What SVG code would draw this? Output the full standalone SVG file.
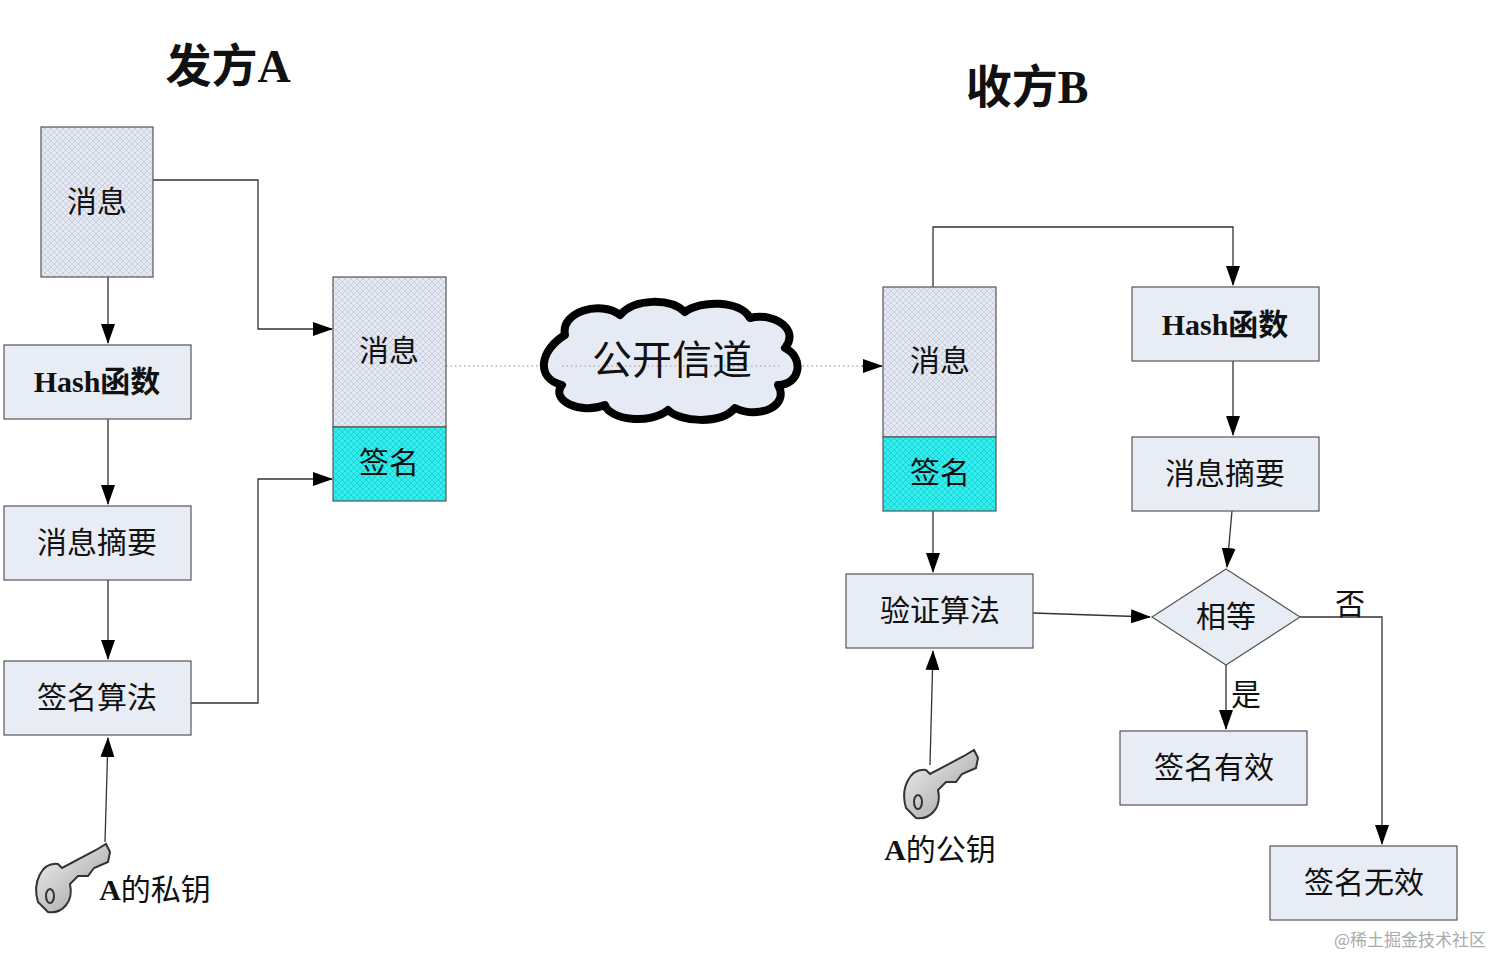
<svg xmlns="http://www.w3.org/2000/svg" width="1512" height="977" viewBox="0 0 1512 977">
<defs>
<pattern id="hatch" width="6" height="6" patternUnits="userSpaceOnUse">
<rect width="6" height="6" fill="#e4e9f3"/>
<path d="M0 0L6 6M6 0L0 6" stroke="#b8c0d0" stroke-width="0.6"/>
</pattern>
<pattern id="hatchc" width="6" height="6" patternUnits="userSpaceOnUse">
<rect width="6" height="6" fill="#2ff0ee"/>
<path d="M0 0L6 6M6 0L0 6" stroke="#20b8c0" stroke-width="0.6"/>
</pattern>
<linearGradient id="keyg" x1="0" y1="0" x2="1" y2="1">
<stop offset="0" stop-color="#f4f4f4"/><stop offset="1" stop-color="#9a9a9a"/>
</linearGradient>
<marker id="arr" markerWidth="20" markerHeight="14" refX="19" refY="7" orient="auto" markerUnits="userSpaceOnUse">
<path d="M0 0L20 7L0 14Z" fill="#000"/>
</marker>
<g id="key">
<path d="M-34 40 C-40 20 -30 0 -14 2 L-10 6 L24 -12 L34 -18 L38 -10 L36 0 L22 6 L16 14 L6 14 L-2 22 C2 40 -10 52 -24 50 Z" fill="url(#keyg)" stroke="#333" stroke-width="2"/>
<ellipse cx="-22" cy="34" rx="4" ry="7" fill="none" stroke="#333" stroke-width="2"/>
</g>
</defs>
<style>
.box{fill:#e8edf5;stroke:#555;stroke-width:1.2}
.h{fill:url(#hatch);stroke:#555;stroke-width:1.2}
.c{fill:url(#hatchc);stroke:#555;stroke-width:1.2}
.t{font-family:"Liberation Serif","Noto Sans CJK SC",serif;font-size:30px;text-anchor:middle;dominant-baseline:central;fill:#111}
.b{font-weight:bold}
.ln{fill:none;stroke:#333;stroke-width:1.3}
</style>
<rect width="1512" height="977" fill="#fff"/>
<text class="t b" x="228" y="66" style="font-size:46px">发方A</text>
<text class="t b" x="1027" y="87" style="font-size:46px">收方B</text>

<g id="connectors">
<path class="ln" d="M108 277V343" marker-end="url(#arr)"/>
<path class="ln" d="M108 419V504" marker-end="url(#arr)"/>
<path class="ln" d="M108 580V659" marker-end="url(#arr)"/>
<path class="ln" d="M105 842L108 738" marker-end="url(#arr)"/>
<path class="ln" d="M153 180H258V329H332" marker-end="url(#arr)"/>
<path class="ln" d="M191 703H258V479H332" marker-end="url(#arr)"/>
<path d="M446 366H560M780 366H866" stroke="#888" stroke-width="1.2" stroke-dasharray="1.5 3" fill="none"/>
<path d="M862 366H882" class="ln" marker-end="url(#arr)"/>
<path class="ln" d="M933 287V227H1233V285" marker-end="url(#arr)"/>
<path class="ln" d="M1233 361V435" marker-end="url(#arr)"/>
<path class="ln" d="M1232 511L1227 567" marker-end="url(#arr)"/>
<path class="ln" d="M933 511V572" marker-end="url(#arr)"/>
<path class="ln" d="M1033 613L1150 617" marker-end="url(#arr)"/>
<path class="ln" d="M1300 617H1382V844" marker-end="url(#arr)"/>
<path class="ln" d="M1226 665V729" marker-end="url(#arr)"/>
<path class="ln" d="M930 765L933 651" marker-end="url(#arr)"/>
</g>

<g id="msgA"><rect class="h" x="41" y="127" width="112" height="150"/><text class="t" x="97" y="201">消息</text></g>
<g id="hashA"><rect class="box" x="4" y="345" width="187" height="74"/><text class="t b" x="97" y="381">Hash函数</text></g>
<g id="digestA"><rect class="box" x="4" y="506" width="187" height="74"/><text class="t" x="97" y="542">消息摘要</text></g>
<g id="signAlg"><rect class="box" x="4" y="661" width="187" height="74"/><text class="t" x="97" y="697">签名算法</text></g>
<g id="keyA"><use href="#key" x="72" y="862"/><text class="t b" x="155" y="889">A<tspan font-weight="normal">的私钥</tspan></text></g>
<g id="pkgA"><rect class="h" x="333" y="277" width="113" height="150"/><rect class="c" x="333" y="427" width="113" height="74"/>
<text class="t" x="389" y="350">消息</text><text class="t" x="389" y="462">签名</text></g>

<g id="cloud">
<path d="M565 335 C560 312 600 300 620 315 C635 298 670 298 685 312 C700 300 740 300 750 318 C775 312 800 330 785 348 C805 358 800 385 778 385 C790 405 760 420 735 408 C720 425 680 422 668 410 C650 425 610 420 605 405 C580 415 550 400 562 385 C535 378 540 350 565 335 Z" fill="#e6eaf4" stroke="#000" stroke-width="8" stroke-linejoin="round"/>
<path d="M562 366H780" stroke="#999" stroke-width="1.2" stroke-dasharray="1.5 3"/>
<text class="t" x="672" y="360" style="font-size:40px">公开信道</text>
</g>

<g id="pkgB"><rect class="h" x="883" y="287" width="113" height="150"/><rect class="c" x="883" y="437" width="113" height="74"/>
<text class="t" x="940" y="360">消息</text><text class="t" x="940" y="472">签名</text></g>
<g id="hashB"><rect class="box" x="1132" y="287" width="187" height="74"/><text class="t b" x="1225" y="324">Hash函数</text></g>
<g id="digestB"><rect class="box" x="1132" y="437" width="187" height="74"/><text class="t" x="1225" y="473">消息摘要</text></g>
<g id="verify"><rect class="box" x="846" y="574" width="187" height="74"/><text class="t" x="940" y="610">验证算法</text></g>
<g id="equal"><path class="box" d="M1226 569L1300 617L1226 665L1152 617Z"/><text class="t" x="1226" y="616">相等</text></g>
<g id="valid"><rect class="box" x="1120" y="731" width="187" height="74"/><text class="t" x="1214" y="767">签名有效</text></g>
<g id="invalid"><rect class="box" x="1270" y="846" width="187" height="74"/><text class="t" x="1364" y="882">签名无效</text></g>
<text class="t" x="1350" y="603">否</text>
<text class="t" x="1246" y="694">是</text>
<g id="keyB"><use href="#key" x="940" y="768"/><text class="t b" x="940" y="849">A<tspan font-weight="normal">的公钥</tspan></text></g>
<text x="1486" y="946" font-family="'Noto Sans CJK SC',sans-serif" font-size="17" fill="#aaa" text-anchor="end">@稀土掘金技术社区</text>
</svg>
